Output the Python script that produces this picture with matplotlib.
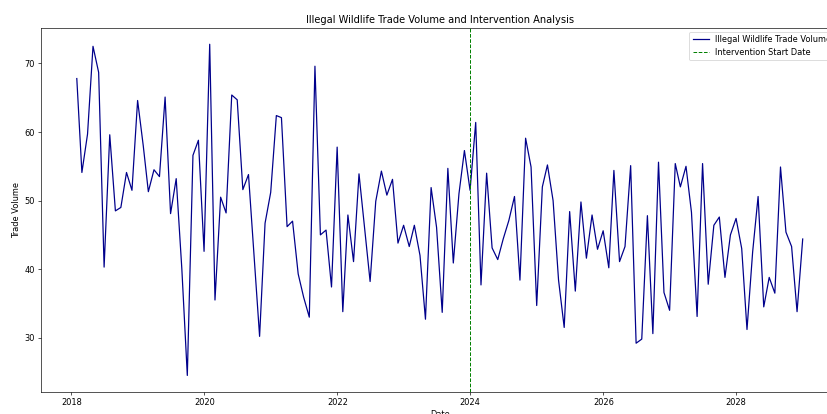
import numpy as np
import pandas as pd
import matplotlib
matplotlib.use("Agg")
import matplotlib.pyplot as plt

# Monthly trade volume, Jan 2018 - Dec 2028 (month-end dates)
dates = pd.date_range("2018-01-01", periods=132, freq="ME")

volume_2018 = [67.8, 54.1, 59.7, 72.5, 68.7, 40.3, 59.6, 48.5, 49.0, 54.1, 51.5, 64.6]
volume_2019 = [58.0, 51.3, 54.5, 53.5, 65.1, 48.1, 53.2, 40.0, 24.5, 56.6, 58.8, 42.6]
volume_2020 = [72.8, 35.5, 50.5, 48.2, 65.4, 64.7, 51.6, 53.8, 42.1, 30.2, 46.7, 51.2]
volume_2021 = [62.4, 62.1, 46.2, 47.0, 39.3, 35.9, 33.0, 69.6, 45.0, 45.7, 37.4, 57.8]
volume_2022 = [33.8, 47.9, 41.1, 53.9, 46.0, 38.2, 49.9, 54.3, 50.8, 53.1, 43.8, 46.4]
volume_2023 = [43.3, 46.4, 42.0, 32.7, 51.9, 46.1, 33.7, 54.7, 40.9, 51.0, 57.3, 51.5]
volume_2024 = [61.4, 37.7, 54.0, 43.1, 41.4, 44.4, 47.1, 50.6, 38.4, 59.1, 54.9, 34.7]
volume_2025 = [52.0, 55.2, 50.0, 38.4, 31.5, 48.4, 36.8, 49.8, 41.6, 47.9, 42.9, 45.6]
volume_2026 = [40.2, 54.4, 41.1, 43.3, 55.1, 29.2, 29.8, 47.8, 30.6, 55.6, 36.6, 34.0]
volume_2027 = [55.4, 52.0, 55.0, 48.3, 33.1, 55.4, 37.8, 46.4, 47.6, 38.8, 45.0, 47.4]
volume_2028 = [43.0, 31.2, 42.5, 50.6, 34.5, 38.8, 36.5, 54.9, 45.4, 43.3, 33.8, 44.4]

trade_volume = (volume_2018 + volume_2019 + volume_2020 + volume_2021 + volume_2022 +
                volume_2023 + volume_2024 + volume_2025 + volume_2026 + volume_2027 +
                volume_2028)

intervention_date = pd.Timestamp("2024-01-01")

W, H = 827, 414
dpi = W / 14.0
fig = plt.figure(figsize=(14.0, H / dpi), dpi=dpi)
ax = fig.add_axes([40.5 / W, 1 - 392 / H, 798.5 / W, (392 - 27.7) / H])

ax.plot(dates, trade_volume, color="darkblue", linewidth=1.5,
        label="Illegal Wildlife Trade Volume")
ax.axvline(intervention_date, color="green", linestyle="--", linewidth=1.2,
           label="Intervention Start Date")

ax.set_title("Illegal Wildlife Trade Volume and Intervention Analysis")
ax.set_xlabel("Date")
ax.set_ylabel("Trade Volume")
ax.legend(loc="upper right")

fig.savefig("out.png", dpi=dpi)
